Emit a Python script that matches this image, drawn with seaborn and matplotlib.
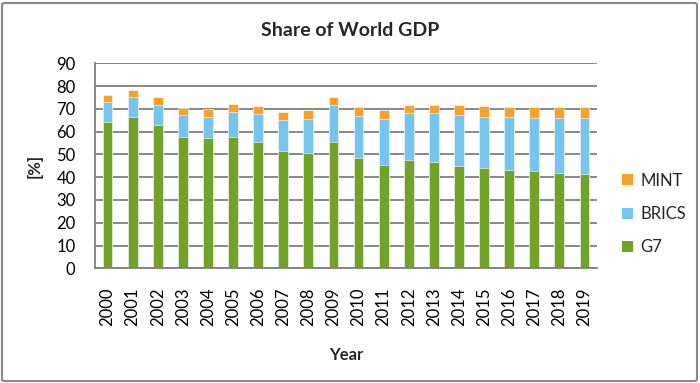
import matplotlib
matplotlib.use("Agg")
import matplotlib.pyplot as plt
import seaborn as sns
import pandas as pd
import numpy as np
from matplotlib.patches import FancyBboxPatch, Patch

years = [str(y) for y in range(2000, 2020)]
g7 = [64.4, 66.3, 63.1, 57.8, 57.0, 57.7, 55.6, 51.5, 50.5, 55.6,
      48.6, 45.4, 47.4, 46.6, 44.8, 44.1, 43.0, 42.5, 42.0, 41.6]
brics = [8.4, 8.8, 8.8, 9.3, 9.5, 11.0, 12.2, 13.8, 15.1, 16.3,
         18.3, 20.0, 20.7, 21.5, 22.4, 22.5, 23.3, 23.7, 23.9, 24.4]
mint = [3.3, 3.2, 3.4, 3.3, 3.3, 3.5, 3.6, 3.5, 3.8, 3.5,
        3.8, 3.9, 3.8, 3.8, 4.4, 4.6, 4.7, 4.7, 5.0, 4.9]

series_names = ["G7", "BRICS", "MINT"]
colors = {"G7": "#70A328", "BRICS": "#76C5EE", "MINT": "#FAA12A"}

df = pd.DataFrame({"Year": years, "G7": g7, "BRICS": brics, "MINT": mint})
df["cum_G7"] = df["G7"]
df["cum_BRICS"] = df["G7"] + df["BRICS"]
df["cum_MINT"] = df["cum_BRICS"] + df["MINT"]

sns.set_theme(style="white")
plt.rcParams["font.family"] = ["Lato", "DejaVu Sans"]

fig = plt.figure(figsize=(7.0, 3.83), dpi=100)
ax = fig.add_axes([95/700, 1 - 268.3/383, (597-95)/700, (268.3-63.3)/383])

for name in ["MINT", "BRICS", "G7"]:
    sns.barplot(data=df, x="Year", y="cum_" + name, color=colors[name],
                width=0.39, ax=ax, saturation=1, edgecolor="white", linewidth=0.4)

ax.set_ylim(0, 90)
ax.set_xlim(-0.5, 19.5)
ax.set_yticks(np.arange(0, 91, 10))
ax.yaxis.grid(True, color="#7f7f7f", linewidth=1.3)
ax.set_axisbelow(True)
for s in ["top", "right"]:
    ax.spines[s].set_visible(False)
for s in ["left", "bottom"]:
    ax.spines[s].set_color("#7f7f7f")
    ax.spines[s].set_linewidth(1.3)
ax.tick_params(axis="y", length=0, pad=14, labelsize=12, colors="black")
ax.tick_params(axis="x", length=0, pad=14, labelsize=12, colors="black")
plt.setp(ax.get_xticklabels(), rotation=90)
ax.set_xlabel("Year", fontsize=12, fontweight="bold", labelpad=15)
ax.set_ylabel("[%]", fontsize=12, fontweight="bold", labelpad=10)

fig.text(0.5, 1 - 31/383, "Share of World GDP", ha="center", va="center",
         fontsize=14, fontweight="bold")

handles = [Patch(facecolor=colors[n], edgecolor="none") for n in ["MINT", "BRICS", "G7"]]
leg = fig.legend(handles, ["MINT", "BRICS", "G7"], loc="center left",
                 bbox_to_anchor=(622/700, 1 - 214/383), frameon=False,
                 fontsize=12, handlelength=0.65, handleheight=0.65,
                 handletextpad=0.45, labelspacing=1.05, borderpad=0,
                 borderaxespad=0)

border = FancyBboxPatch((2/700, 2/383), 695/700, 378/383,
                        boxstyle="round,pad=0,rounding_size=0.004",
                        transform=fig.transFigure, facecolor="none",
                        edgecolor="#8a8a8a", linewidth=1.5)
fig.patches.append(border)

fig.savefig("out.png", dpi=100)
